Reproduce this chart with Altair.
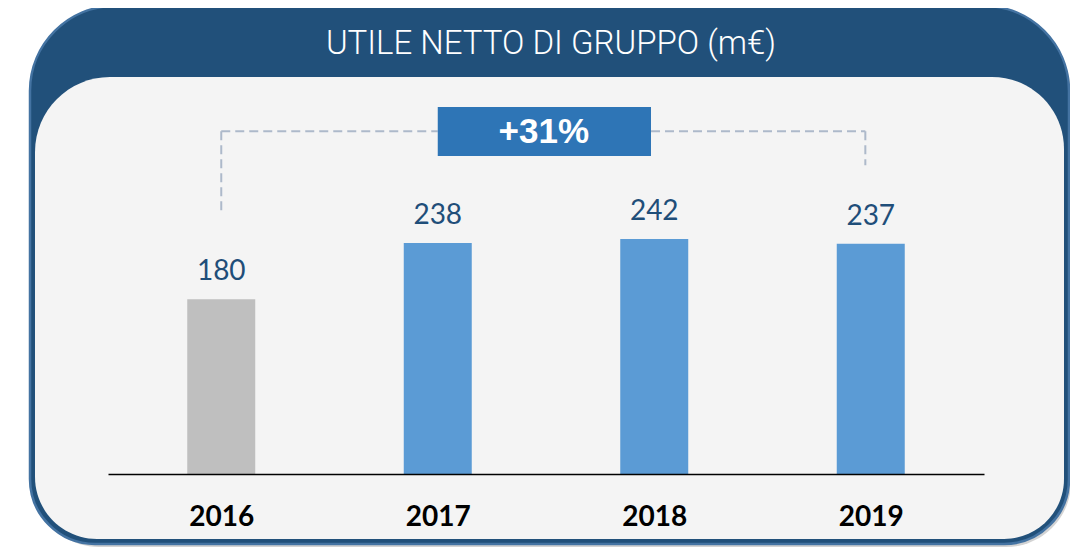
import altair as alt
import pandas as pd

# ---- data ----
years = ["2016", "2017", "2018", "2019"]
values = [180, 238, 242, 237]
growth_label = "+31%"
title_text = "UTILE NETTO DI GRUPPO (m€)"

# ---- layout / style ----
PW, PH = 876, 369            # plot area
PL, PT, PR, PB = 100, 97, 86, 74
OX, OY = PL + 8, PT + 8      # page coords of plot origin


def px(x):
    return x - OX


def py(y):
    return y - OY


BLUE = "#5B9BD5"
GRAY = "#BFBFBF"
NAVY = "#21507A"
LABEL = "#1F4E79"

df = pd.DataFrame({"i": list(range(len(years))), "year": years, "value": values})

xscale = alt.Scale(domain=[-0.5, len(years) - 0.5], nice=False, zero=False)
yscale = alt.Scale(domain=[0, 380], nice=False)

label_expr = "[" + ",".join(f"'{y}'" for y in years) + "][datum.value]"
xaxis = alt.Axis(
    values=list(range(len(years))), labelExpr=label_expr, title=None,
    ticks=False, grid=False, domainColor="black", domainWidth=1.6,
    labelFont="Lato", labelFontWeight="bold", labelFontSize=28,
    labelColor="black", labelPadding=29, labelFlush=False, labelOverlap=False,
    zindex=2,
)

one = alt.Data(values=[{}])

shadow = alt.Chart(one).mark_rect(
    fill="#808080", opacity=0.35,
    cornerRadiusTopLeft=85, cornerRadiusTopRight=85,
    cornerRadiusBottomLeft=65, cornerRadiusBottomRight=65,
).encode(x=alt.value(px(34)), x2=alt.value(px(1071)),
         y=alt.value(py(10)), y2=alt.value(py(547)))

outer = alt.Chart(one).mark_rect(
    fill=NAVY, stroke="#4473A2", strokeWidth=2.5,
    cornerRadiusTopLeft=85, cornerRadiusTopRight=85,
    cornerRadiusBottomLeft=65, cornerRadiusBottomRight=65,
).encode(x=alt.value(px(30)), x2=alt.value(px(1069)),
         y=alt.value(py(6)), y2=alt.value(py(544)))

inner = alt.Chart(one).mark_rect(
    fill="#F4F4F4",
    cornerRadiusTopLeft=75, cornerRadiusTopRight=72,
    cornerRadiusBottomLeft=62, cornerRadiusBottomRight=60,
).encode(x=alt.value(px(35)), x2=alt.value(px(1064)),
         y=alt.value(py(77)), y2=alt.value(py(539)))

title = alt.Chart(one).mark_text(
    text=title_text, color="white", fontSize=33, fontWeight=300,
    font="Roboto",
    align="center", baseline="middle",
).encode(x=alt.value(px(551)), y=alt.value(py(44)))

bars = alt.Chart(df).mark_bar(size=68).encode(
    x=alt.X("i:Q", scale=xscale, axis=xaxis),
    y=alt.Y("value:Q", scale=yscale, axis=None),
    color=alt.Color("year:N", scale=alt.Scale(domain=years, range=[GRAY, BLUE, BLUE, BLUE]),
                    legend=None),
)

labels = alt.Chart(df).mark_text(
    dy=-19, baseline="alphabetic", align="center", font="Lato", fontSize=28, color=LABEL
).encode(
    x=alt.X("i:Q", scale=xscale, axis=xaxis),
    y=alt.Y("value:Q", scale=yscale, axis=None),
    text="value:Q",
)

# bracket (data coordinates)
bracket_df = pd.DataFrame({
    "x": [0.0, 1.985, 0.0, 2.975],
    "x2": [1.0, 2.975, 0.0, 2.975],
    "y": [353.0, 353.0, 353.0, 353.0],
    "y2": [353.0, 353.0, 269.0, 318.0],
})
bracket = alt.Chart(bracket_df).mark_rule(
    color="#ADB9CA", strokeWidth=2, strokeDash=[9, 5]
).encode(
    x=alt.X("x:Q", scale=xscale, axis=xaxis), x2="x2:Q",
    y=alt.Y("y:Q", scale=yscale, axis=None), y2="y2:Q",
)

box_df = pd.DataFrame({"x": [1.0], "x2": [1.985], "y": [378.0], "y2": [327.5],
                       "ym": [352.0], "xm": [1.49], "t": [growth_label]})
box = alt.Chart(box_df).mark_rect(color="#2E75B6").encode(
    x=alt.X("x:Q", scale=xscale, axis=xaxis), x2="x2:Q",
    y=alt.Y("y:Q", scale=yscale, axis=None), y2="y2:Q",
)
box_text = alt.Chart(box_df).mark_text(
    color="white", font="Liberation Sans", fontWeight="bold", fontSize=35,
    align="center", baseline="middle",
).encode(
    x=alt.X("xm:Q", scale=xscale, axis=xaxis),
    y=alt.Y("ym:Q", scale=yscale, axis=None),
    text="t:N",
)

chart = alt.layer(shadow, outer, inner, title, bars, labels, bracket, box, box_text).properties(
    width=PW, height=PH,
    padding={"left": PL, "top": PT, "right": PR, "bottom": PB},
    autosize="none",
    background="white",
).configure_view(stroke=None)

chart.save("out.html", embed_options={"renderer": "svg", "actions": False})
